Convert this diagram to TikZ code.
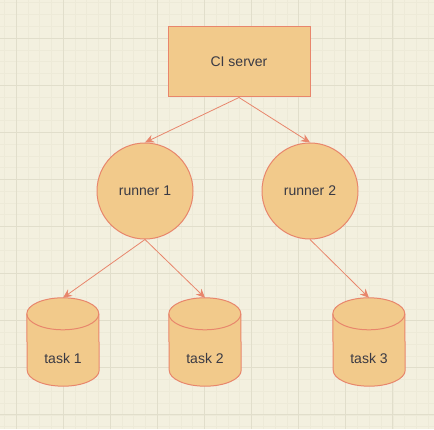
\documentclass[tikz,border=0pt]{standalone}
\usepackage{fontspec}
\setmainfont{Liberation Sans}
\usepackage{tikz}
\usetikzlibrary{%
		arrows.meta%
		,positioning%
	}

\definecolor{paper}{HTML}{F3F0DF}
\definecolor{gridminor}{HTML}{EDEAD8}
\definecolor{gridmajor}{HTML}{E1DECB}
\definecolor{boxfill}{HTML}{F2CA8B}
\definecolor{boxline}{HTML}{E8866C}
\definecolor{labeltext}{HTML}{3A3A44}

\tikzset{
	box/.style={draw=boxline,fill=boxfill,line width=1pt,text=labeltext,font=\fontsize{14}{16}\selectfont},
	server/.style={box,rectangle,minimum width=142pt,minimum height=70pt},
	runner/.style={box,circle,minimum size=96pt,inner sep=0pt},
	taskbox/.style={rectangle,minimum width=72pt,minimum height=88pt,inner sep=0pt},
	tasklabel/.style={text=labeltext,font=\fontsize{14}{16}\selectfont},
	link/.style={draw=boxline,line width=0.8pt,-{Stealth[length=9pt,width=8pt]}},
}

% cylinder drawn on the frame of a taskbox node
\newcommand{\drumshape}[1]{%
	\filldraw[draw=boxline,fill=boxfill,line width=1pt]
		([yshift=-16pt]#1.north west) arc[start angle=180,end angle=0,x radius=36pt,y radius=16pt]
		-- ([yshift=16pt]#1.south east) arc[start angle=0,end angle=-180,x radius=36pt,y radius=16pt]
		-- cycle;
	\draw[boxline,line width=1pt]
		([yshift=-16pt]#1.north west) arc[start angle=180,end angle=360,x radius=36pt,y radius=16pt];
}

\begin{document}
\begin{tikzpicture}[x=1pt,y=1pt]
			\fill[paper] (0,0) rectangle (434,429);
			\useasboundingbox (0,0) rectangle (434,429);
			\foreach \k in {0,...,36}{
				\draw[gridminor,line width=0.5pt] ({4.2+11.775*\k},0) -- ++(0,429);
				\draw[gridminor,line width=0.5pt] (0,{426.3-11.775*\k}) -- ++(434,0);
			}
			\foreach \k in {0,...,8}{
				\draw[gridmajor,line width=0.8pt] ({16+47.1*\k},0) -- ++(0,429);
				\draw[gridmajor,line width=0.8pt] (0,{391-47*\k}) -- ++(434,0);
			}

			\node[server] (ci) at (239,367) {CI server};
			\node[runner] (r1) at (145,238) {runner 1};
			\node[runner] (r2) at (310,238) {runner 2};

			\node[taskbox] (t1) at (63,87) {};
			\node[taskbox] (t2) at (205,87) {};
			\node[taskbox] (t3) at (369,87) {};
			\drumshape{t1}
			\drumshape{t2}
			\drumshape{t3}
			\node[tasklabel] (l1) at ([yshift=-16pt]t1.center) {task 1};
			\node[tasklabel] (l2) at ([yshift=-16pt]t2.center) {task 2};
			\node[tasklabel] (l3) at ([yshift=-16pt]t3.center) {task 3};

			\draw[link] (ci.south) -- (r1.north);
			\draw[link] (ci.south) -- (r2.north);
			\draw[link] (r1.south) -- (t1.north);
			\draw[link] (r1.south) -- (t2.north);
			\draw[link] (r2.south) -- (t3.north);

		\end{tikzpicture}
\end{document}
